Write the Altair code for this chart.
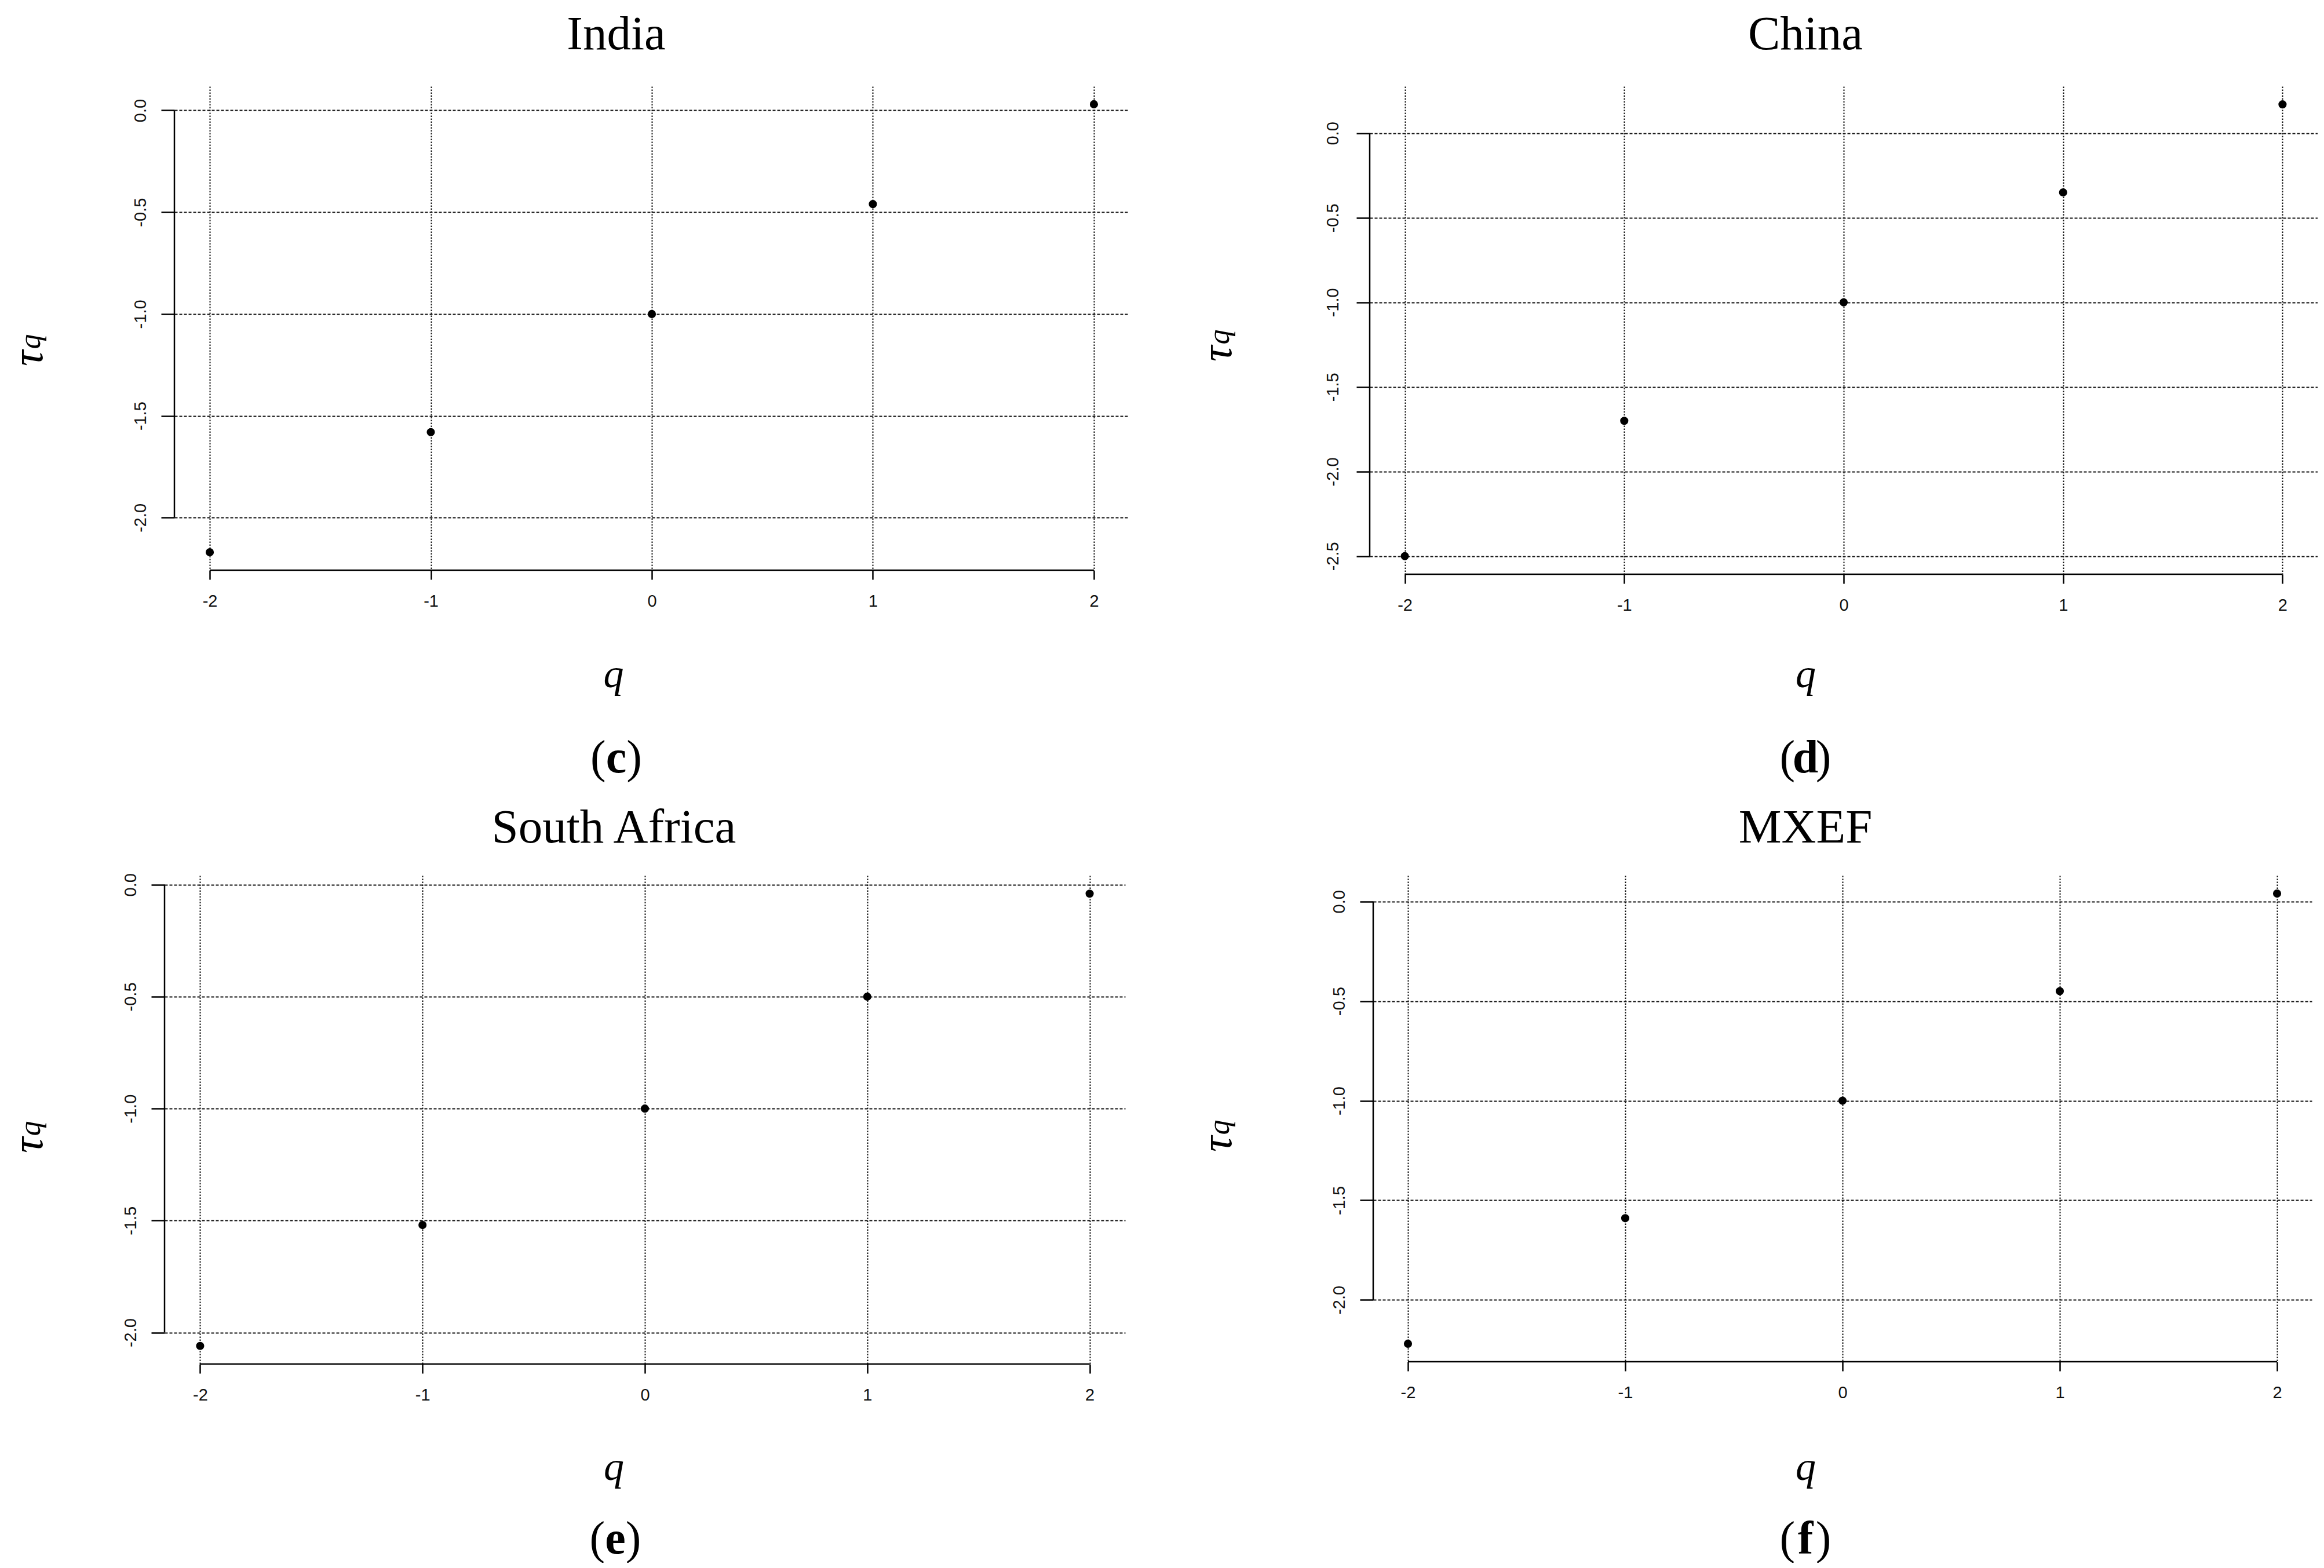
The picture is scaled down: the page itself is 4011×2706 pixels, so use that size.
import altair as alt
import pandas as pd

# ---------------- data ----------------
q_values = [-2, -1, 0, 1, 2]

india_tau = [-2.17, -1.58, -1.00, -0.46, 0.03]
china_tau = [-2.50, -1.70, -1.00, -0.35, 0.17]
south_africa_tau = [-2.06, -1.52, -1.00, -0.50, -0.04]
mxef_tau = [-2.22, -1.59, -1.00, -0.45, 0.04]

india_yticks = [-2.0, -1.5, -1.0, -0.5, 0.0]
china_yticks = [-2.5, -2.0, -1.5, -1.0, -0.5, 0.0]
south_africa_yticks = [-2.0, -1.5, -1.0, -0.5, 0.0]
mxef_yticks = [-2.0, -1.5, -1.0, -0.5, 0.0]

panel_titles = ["India", "China", "South Africa", "MXEF"]
panel_letters = ["c", "d", "e", "f"]
x_title = "q"
y_title = "τ"
y_title_sub = "q"

SERIF = "Liberation Serif"
SANS = "Liberation Sans"
MINUS_FIX = "replace(datum.label, '\u2212', '-')"
PAGE = 8

# layout (page pixels): column lefts and row tops of the 2x2 grid of views
COL_LEFT = [281, 2361]
ROW_TOP = [146, 1508]

# per panel: plot box (L = y-axis line, W = plot width, B = x-axis line),
# and text anchors (page pixels)
geoms = [
    dict(col=0, row=0, L=298, W=1648, B=981, title=(1060.6, 82), tau=(69, 615),
         xt=(1055.5, 1182), cap=(1060.5, 1330), ylpad=26.7),
    dict(col=1, row=0, L=2361, W=1636, B=988, title=(3113, 82), tau=(2121, 607),
         xt=(3113, 1182), cap=(3113, 1330), ylpad=32),
    dict(col=0, row=1, L=281, W=1658, B=2351, title=(1056.5, 1450.5), tau=(69, 1973),
         xt=(1056, 2550.5), cap=(1059, 2678), ylpad=26.6),
    dict(col=1, row=1, L=2367, W=1620, B=2347, title=(3113, 1450.5), tau=(2121, 1971),
         xt=(3113, 2550.5), cap=(3113, 2678), ylpad=26.7),
]


def expanded(lo, hi, frac=0.04):
    r = hi - lo
    return [lo - frac * r, hi + frac * r]


def text_layer(txt, x, y, size, style="normal", weight="normal", angle=0,
               align="center"):
    return alt.Chart(pd.DataFrame({"t": [txt]})).mark_text(
        font=SERIF, fontSize=size, fontStyle=style, fontWeight=weight,
        angle=angle, align=align, baseline="alphabetic", color="black"
    ).encode(text="t:N", x=alt.value(x), y=alt.value(y))


def panel(title, letter, tau, yticks, g):
    X0 = COL_LEFT[g["col"]]
    Y0 = ROW_TOP[g["row"]]
    d = g["L"] - X0              # inset of the y-axis line inside the view
    W = g["W"]
    H = g["B"] - Y0
    xdom = expanded(min(q_values), max(q_values))
    ydom = expanded(min(tau), max(tau))
    xscale = alt.Scale(domain=xdom, range=[d, d + W], nice=False, zero=False)
    yscale = alt.Scale(domain=ydom, nice=False, zero=False)

    xaxis = alt.Axis(
        values=q_values, format="d", labelExpr=MINUS_FIX, domain=False,
        grid=True, gridColor="#111111", gridDash=[2.5, 2.5], gridWidth=2,
        ticks=True, tickSize=16, tickWidth=2.5, tickColor="black",
        labelFont=SANS, labelFontSize=29, labelColor="#111111",
        labelPadding=46, labelBaseline="alphabetic", labelAngle=0,
        labelFlush=False, labelOverlap=False,
        title=x_title, titleFont=SERIF, titleFontStyle="italic",
        titleFontWeight="normal", titleFontSize=70, titleColor="black",
        titleX=g["xt"][0] - X0, titleY=g["xt"][1] - g["B"],
        titleAlign="center", titleBaseline="alphabetic",
    )
    yaxis = alt.Axis(
        values=yticks, format=".1f", labelExpr=MINUS_FIX, domain=False,
        offset=-d,
        grid=True, gridColor="#111111", gridDash=[5, 3], gridWidth=1.8,
        ticks=True, tickSize=23, tickWidth=2.5, tickColor="black",
        labelFont=SANS, labelFontSize=29, labelColor="#111111",
        labelPadding=g["ylpad"], labelAngle=270, labelAlign="center",
        labelBaseline="alphabetic", labelFlush=False, labelOverlap=False,
        title=y_title, titleFont=SERIF, titleFontStyle="italic",
        titleFontWeight="normal", titleFontSize=76, titleColor="black",
        titleAngle=270, titleX=g["tau"][0] - g["L"], titleY=g["tau"][1] - Y0,
        titleAlign="center", titleBaseline="alphabetic",
    )

    df = pd.DataFrame({"q": q_values, "tau": tau})
    points = alt.Chart(df).mark_circle(size=200, color="black", opacity=1).encode(
        x=alt.X("q:Q", scale=xscale, axis=xaxis),
        y=alt.Y("tau:Q", scale=yscale, axis=yaxis),
    )

    # R-style axis lines running from the first to the last tick
    xline = alt.Chart(pd.DataFrame({
        "q": [min(q_values)], "q2": [max(q_values)], "tau": [ydom[0]]
    })).mark_rule(color="black", strokeWidth=2.5).encode(
        x=alt.X("q:Q", scale=xscale), x2="q2:Q",
        y=alt.Y("tau:Q", scale=yscale),
    )
    yline = alt.Chart(pd.DataFrame({
        "q": [xdom[0]], "tau": [min(yticks)], "tau2": [max(yticks)]
    })).mark_rule(color="black", strokeWidth=2.5).encode(
        x=alt.X("q:Q", scale=xscale),
        y=alt.Y("tau:Q", scale=yscale), y2="tau2:Q",
    )

    ttl = text_layer(title, g["title"][0] - X0, g["title"][1] - Y0, 83)
    sub = text_layer(y_title_sub, g["tau"][0] - 3 - X0, g["tau"][1] - 28.5 - Y0,
                     52, style="italic", angle=270)
    cx, cy = g["cap"][0] - X0, g["cap"][1] - Y0
    half = 17.8
    cap_l = text_layer("(", cx - half, cy, 80, align="right")
    cap_m = text_layer(letter, cx, cy, 80, weight="bold")
    cap_r = text_layer(")", cx + half, cy, 80, align="left")

    return alt.layer(points, xline, yline, ttl, sub, cap_l, cap_m, cap_r).properties(
        width=d + W, height=H,
    )


def spacer(w, h):
    return alt.Chart(pd.DataFrame({"s": [0]})).mark_point(opacity=0).encode(
        x=alt.value(0), y=alt.value(0)
    ).properties(width=max(int(round(w)), 1), height=max(int(round(h)), 1))


taus = [india_tau, china_tau, south_africa_tau, mxef_tau]
yts = [india_yticks, china_yticks, south_africa_yticks, mxef_yticks]
panels = [panel(panel_titles[i], panel_letters[i], taus[i], yts[i], geoms[i])
          for i in range(4)]

gi, gc, gs, gm = geoms
col1_w = max(gi["L"] - COL_LEFT[0] + gi["W"], gs["L"] - COL_LEFT[0] + gs["W"])
gap_w = COL_LEFT[1] - COL_LEFT[0] - col1_w
row1_h = max(gi["B"], gc["B"]) - ROW_TOP[0]
gap_h = ROW_TOP[1] - ROW_TOP[0] - row1_h

cells = [
    spacer(1, 1), spacer(1, ROW_TOP[0] - PAGE), spacer(1, 1), spacer(1, ROW_TOP[0] - PAGE),
    spacer(COL_LEFT[0] - PAGE, 1), panels[0], spacer(gap_w, 1), panels[1],
    spacer(1, 1), spacer(1, gap_h), spacer(1, 1), spacer(1, gap_h),
    spacer(COL_LEFT[0] - PAGE, 1), panels[2], spacer(gap_w, 1), panels[3],
]

chart = alt.concat(
    *cells, columns=4, spacing=0, bounds="flush", align="each"
).properties(
    padding=0, background="white"
).configure_view(strokeWidth=0)

chart.save("out.html", embed_options={"renderer": "svg", "actions": False})
